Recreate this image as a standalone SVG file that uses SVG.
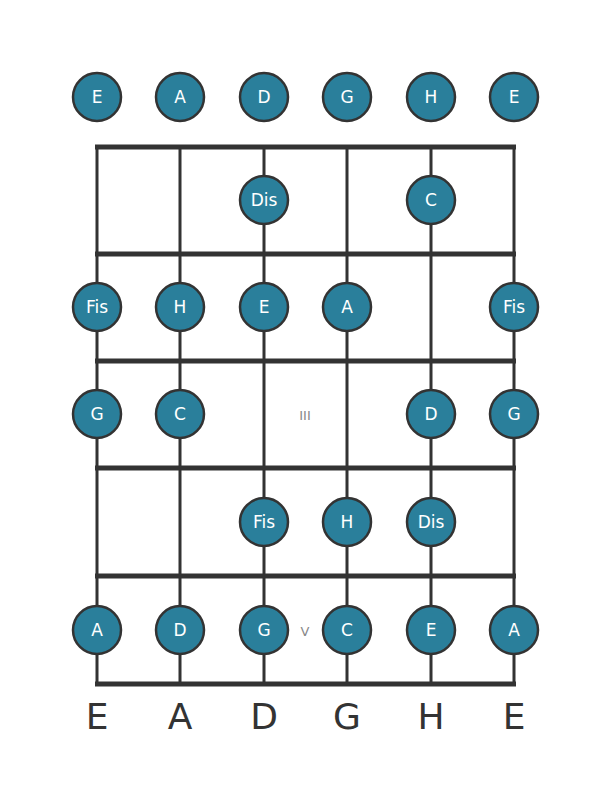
<svg xmlns="http://www.w3.org/2000/svg" width="611" height="801" viewBox="0 0 611 801">
<style>
.str{stroke:#333;stroke-width:3;fill:none}
.fret{stroke:#333;stroke-width:5;fill:none}
.n circle{fill:#2a7f9b;stroke:#333;stroke-width:2.5}
.n text{fill:#fff;font-family:"DejaVu Sans",sans-serif;font-size:17px;text-anchor:middle;dominant-baseline:central}
.lbl{fill:#333;font-family:"DejaVu Sans",sans-serif;font-size:36px;text-anchor:middle}
.mk{fill:#888;font-family:"DejaVu Sans",sans-serif;font-size:13px;text-anchor:middle;dominant-baseline:central}
</style>
<rect width="611" height="801" fill="#fff"/>
<g id="connectors">
<line class="str" x1="97" y1="147" x2="97" y2="684"/>
<line class="str" x1="180" y1="147" x2="180" y2="684"/>
<line class="str" x1="264" y1="147" x2="264" y2="684"/>
<line class="str" x1="347" y1="147" x2="347" y2="684"/>
<line class="str" x1="431" y1="147" x2="431" y2="684"/>
<line class="str" x1="514" y1="147" x2="514" y2="684"/>
<line class="fret" x1="95" y1="147" x2="516" y2="147"/>
<line class="fret" x1="95" y1="254" x2="516" y2="254"/>
<line class="fret" x1="95" y1="361" x2="516" y2="361"/>
<line class="fret" x1="95" y1="468" x2="516" y2="468"/>
<line class="fret" x1="95" y1="576" x2="516" y2="576"/>
<line class="fret" x1="95" y1="684" x2="516" y2="684"/>
</g>
<text class="mk" x="305" y="415">III</text>
<text class="mk" x="305" y="631">V</text>
<g id="open-E1" class="n"><circle cx="97" cy="97" r="24"/><text x="97" y="97">E</text></g>
<g id="open-A" class="n"><circle cx="180" cy="97" r="24"/><text x="180" y="97">A</text></g>
<g id="open-D" class="n"><circle cx="264" cy="97" r="24"/><text x="264" y="97">D</text></g>
<g id="open-G" class="n"><circle cx="347" cy="97" r="24"/><text x="347" y="97">G</text></g>
<g id="open-H" class="n"><circle cx="431" cy="97" r="24"/><text x="431" y="97">H</text></g>
<g id="open-E2" class="n"><circle cx="514" cy="97" r="24"/><text x="514" y="97">E</text></g>
<g id="f1-Dis" class="n"><circle cx="264" cy="200" r="24"/><text x="264" y="200">Dis</text></g>
<g id="f1-C" class="n"><circle cx="431" cy="200" r="24"/><text x="431" y="200">C</text></g>
<g id="f2-Fis1" class="n"><circle cx="97" cy="307" r="24"/><text x="97" y="307">Fis</text></g>
<g id="f2-H" class="n"><circle cx="180" cy="307" r="24"/><text x="180" y="307">H</text></g>
<g id="f2-E" class="n"><circle cx="264" cy="307" r="24"/><text x="264" y="307">E</text></g>
<g id="f2-A" class="n"><circle cx="347" cy="307" r="24"/><text x="347" y="307">A</text></g>
<g id="f2-Fis2" class="n"><circle cx="514" cy="307" r="24"/><text x="514" y="307">Fis</text></g>
<g id="f3-G1" class="n"><circle cx="97" cy="414" r="24"/><text x="97" y="414">G</text></g>
<g id="f3-C" class="n"><circle cx="180" cy="414" r="24"/><text x="180" y="414">C</text></g>
<g id="f3-D" class="n"><circle cx="431" cy="414" r="24"/><text x="431" y="414">D</text></g>
<g id="f3-G2" class="n"><circle cx="514" cy="414" r="24"/><text x="514" y="414">G</text></g>
<g id="f4-Fis" class="n"><circle cx="264" cy="522" r="24"/><text x="264" y="522">Fis</text></g>
<g id="f4-H" class="n"><circle cx="347" cy="522" r="24"/><text x="347" y="522">H</text></g>
<g id="f4-Dis" class="n"><circle cx="431" cy="522" r="24"/><text x="431" y="522">Dis</text></g>
<g id="f5-A1" class="n"><circle cx="97" cy="630" r="24"/><text x="97" y="630">A</text></g>
<g id="f5-D" class="n"><circle cx="180" cy="630" r="24"/><text x="180" y="630">D</text></g>
<g id="f5-G" class="n"><circle cx="264" cy="630" r="24"/><text x="264" y="630">G</text></g>
<g id="f5-C" class="n"><circle cx="347" cy="630" r="24"/><text x="347" y="630">C</text></g>
<g id="f5-E" class="n"><circle cx="431" cy="630" r="24"/><text x="431" y="630">E</text></g>
<g id="f5-A2" class="n"><circle cx="514" cy="630" r="24"/><text x="514" y="630">A</text></g>
<g id="string-labels">
<text class="lbl" x="97" y="729">E</text>
<text class="lbl" x="180" y="729">A</text>
<text class="lbl" x="264" y="729">D</text>
<text class="lbl" x="347" y="729">G</text>
<text class="lbl" x="431" y="729">H</text>
<text class="lbl" x="514" y="729">E</text>
</g>
</svg>
